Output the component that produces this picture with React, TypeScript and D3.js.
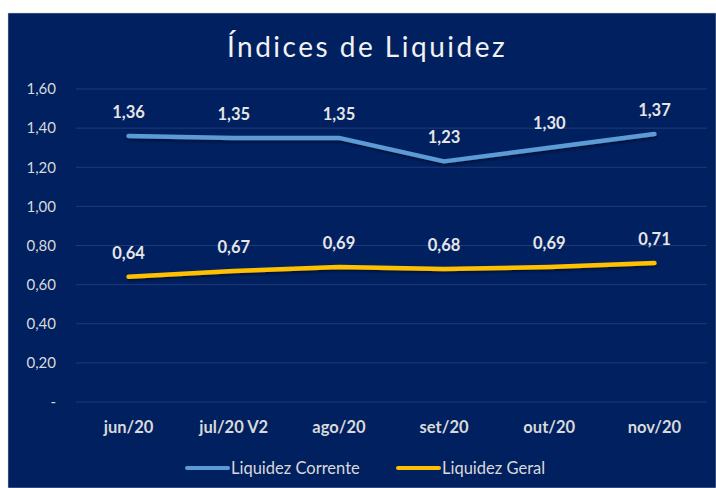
import React from 'react';
import * as d3 from 'd3';

// chart values
const months = ['jun/20', 'jul/20 V2', 'ago/20', 'set/20', 'out/20', 'nov/20'];
const liquidezCorrente = [1.36, 1.35, 1.35, 1.23, 1.30, 1.37];
const liquidezGeral = [0.64, 0.67, 0.69, 0.68, 0.69, 0.71];
const yTicks = [0, 0.2, 0.4, 0.6, 0.8, 1.0, 1.2, 1.4, 1.6];

const series = [
  { name: 'Liquidez Corrente', values: liquidezCorrente, color: '#5b9bd5' },
  { name: 'Liquidez Geral', values: liquidezGeral, color: '#ffc000' },
];

const fmt = (v: number) => (v === 0 ? '-' : d3.format('.2f')(v).replace('.', ','));

export default function App() {
  const width = 716;
  const height = 488;
  const left = 76;
  const right = 707;
  const top = 89;
  const bottom = 402;

  const x = d3.scaleBand<string>().domain(months).range([left, right]);
  const y = d3.scaleLinear().domain([0, 1.6]).range([bottom, top]);

  const line = d3
    .line<number>()
    .x((_, i) => (x(months[i]) as number) + x.bandwidth() / 2)
    .y(d => y(d));

  const font = 'Lato, "Open Sans", sans-serif';

  return (
    <svg
      width={width}
      height={height}
      style={{ position: 'absolute', left: 0, top: 0 }}
    >
      <defs>
        <filter id="shadow" x="-10%" y="-50%" width="120%" height="200%">
          <feDropShadow dx="1" dy="2" stdDeviation="1.5" floodColor="#000" floodOpacity="0.45" />
        </filter>
      </defs>
      <rect x={0} y={0} width={width} height={height} fill="#fff" />
      <rect x={8} y={13} width={width - 8} height={height - 13} fill="#002060" stroke="#d0d0d0" strokeWidth={0.5} />

      <text
        x={367}
        y={57}
        textAnchor="middle"
        fill="#f2f2f2"
        fontFamily={font}
        fontSize={28}
        letterSpacing={2.5}
      >
        Índices de Liquidez
      </text>

      {yTicks.map(t => (
        <g key={t}>
          <line x1={left} x2={right} y1={y(t)} y2={y(t)} stroke="#1f3a78" strokeWidth={1} />
          <text
            x={56}
            y={y(t)}
            dy="0.35em"
            textAnchor="end"
            fill="#d9d9d9"
            fontFamily={font}
            fontSize={15}
          >
            {fmt(t)}
          </text>
        </g>
      ))}

      {months.map(m => (
        <text
          key={m}
          x={(x(m) as number) + x.bandwidth() / 2}
          y={427}
          dy="0.35em"
          textAnchor="middle"
          fill="#d9d9d9"
          fontFamily={font}
          fontSize={16.5}
          fontWeight="bold"
        >
          {m}
        </text>
      ))}

      {series.map(s => (
        <g key={s.name}>
          <path
            d={line(s.values) as string}
            fill="none"
            stroke={s.color}
            strokeWidth={4.5}
            strokeLinecap="round"
            strokeLinejoin="round"
            filter="url(#shadow)"
          />
          {s.values.map((v, i) => (
            <text
              key={i}
              x={(x(months[i]) as number) + x.bandwidth() / 2}
              y={y(v) - 24}
              dy="0.35em"
              textAnchor="middle"
              fill="#e6e6e6"
              fontFamily={font}
              fontSize={16.5}
              fontWeight="bold"
            >
              {fmt(v)}
            </text>
          ))}
        </g>
      ))}

      {series.map((s, i) => {
        const lx = i === 0 ? 187 : 398;
        return (
          <g key={s.name}>
            <line x1={lx} x2={lx + 41} y1={468} y2={468} stroke={s.color} strokeWidth={4} strokeLinecap="round" />
            <text
              x={lx + 44}
              y={468}
              dy="0.35em"
              fill="#d9d9d9"
              fontFamily={font}
              fontSize={16.5}
            >
              {s.name}
            </text>
          </g>
        );
      })}
    </svg>
  );
}
